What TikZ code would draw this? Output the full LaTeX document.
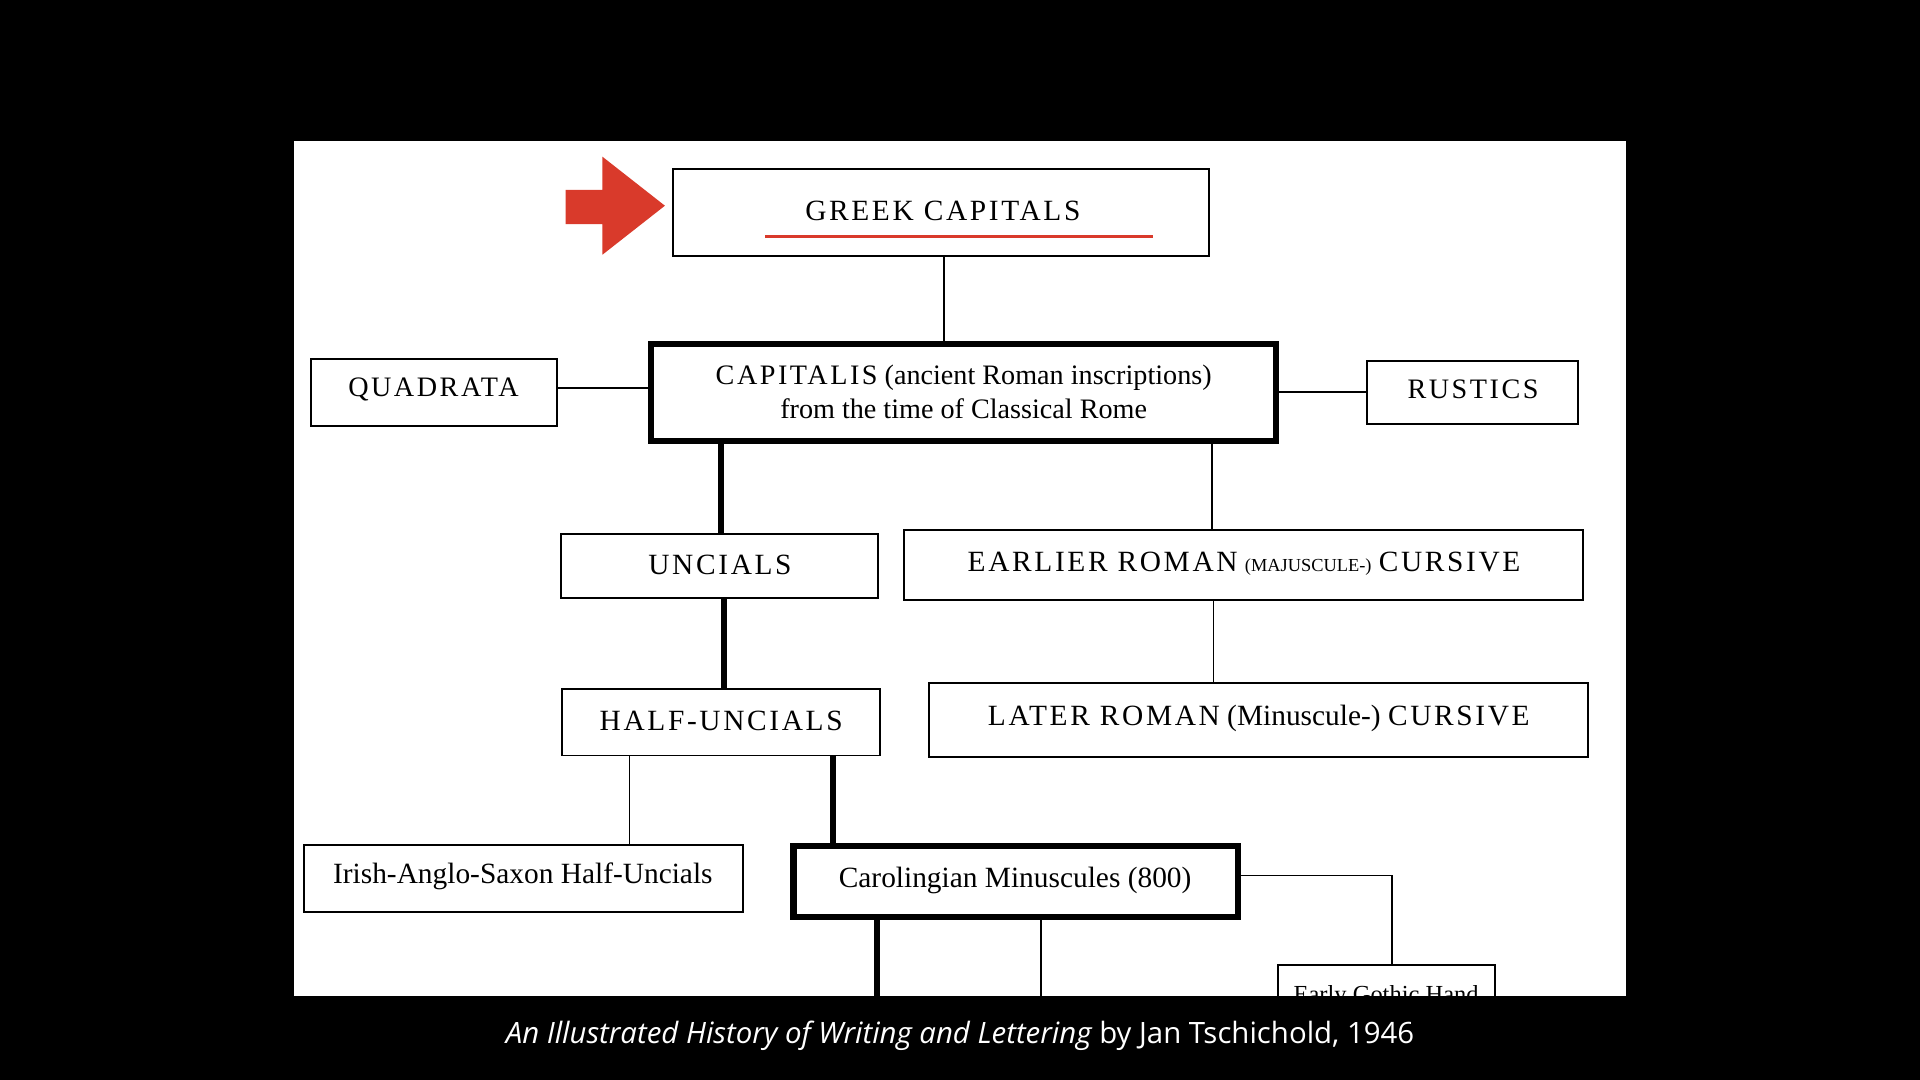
\documentclass[tikz,border=0pt]{standalone}
\usepackage{fontspec}
\setmainfont{Liberation Serif}
\newfontfamily\capsp[LetterSpace=9]{Liberation Serif}
\newfontfamily\capfont{Open Sans}
\definecolor{accent}{HTML}{D93A2B}
\begin{document}
\begin{tikzpicture}[x=1pt,y=-1pt,
  bx/.style={draw=black,line width=1.6pt},
  tbx/.style={draw=black,line width=5pt},
  ln/.style={draw=black,line width=1.4pt},
  tln/.style={draw=black,line width=5pt},
  lbl/.style={anchor=center,inner sep=0pt}]
\fill[black] (0,0) rectangle (1568,882);
\useasboundingbox (0,0) rectangle (1568,882);
\fill[white] (240,115) rectangle (1328,813);
\begin{scope}
\clip (240,115) rectangle (1328,813);
% arrow
\fill[accent] (462,155) -- (492,155) -- (492,128) -- (543,168) -- (492,208) -- (492,183) -- (462,183) -- cycle;
% boxes
\draw[bx] (550,138) rectangle (987,209);
\node[lbl] (greek) at (770,172) {\capsp\fontsize{24}{26}\selectfont GREEK CAPITALS};
\draw[accent,line width=2.5pt] (625,193) -- (942,193);
\draw[tbx] (532,281) rectangle (1042,360);
\node[lbl,align=center,font=\fontsize{23}{27}\selectfont] (capit) at (787,320) {{\capsp CAPITALIS} (ancient Roman inscriptions)\\ from the time of Classical Rome};
\draw[bx] (254,293) rectangle (455,348);
\node[lbl] (quad) at (354,318) {\capsp\fontsize{23}{25}\selectfont QUADRATA};
\draw[bx] (1116,295) rectangle (1289,346);
\node[lbl] (rust) at (1203,318) {\capsp\fontsize{23}{25}\selectfont RUSTICS};
\draw[bx] (458,436) rectangle (717,488);
\node[lbl] (unc) at (588,461) {\capsp\fontsize{24}{26}\selectfont UNCIALS};
\draw[bx] (738,433) rectangle (1293,490);
\node[lbl] (early) at (1016,460) {\fontsize{24}{26}\selectfont{\capsp EARLIER ROMAN} {\fontsize{15}{16}\selectfont(MAJUSCULE-)} {\capsp CURSIVE}};
\draw[bx] (459,563) rectangle (719,617);
\node[lbl] (half) at (589,589) {\capsp\fontsize{24}{26}\selectfont HALF-UNCIALS};
\draw[bx] (759,558) rectangle (1297,618);
\node[lbl] (later) at (1028,587) {\fontsize{24}{26}\selectfont{\capsp LATER ROMAN} (Minuscule-) {\capsp CURSIVE}};
\draw[bx] (248,690) rectangle (607,745);
\node[lbl] (irish) at (427,716) {\fontsize{24}{26}\selectfont Irish-Anglo-Saxon Half-Uncials};
\draw[tbx] (648,691) rectangle (1011,749);
\node[lbl] (caro) at (829,719) {\fontsize{24}{26}\selectfont Carolingian Minuscules (800)};
\draw[bx] (1044,788) rectangle (1221,830);
\node[lbl] (goth) at (1132,814) {\fontsize{20}{22}\selectfont Early Gothic Hand};
% connectors
\draw[ln] (771,209) -- (771,280);
\draw[ln] (455,317) -- (530,317);
\draw[ln] (1044,320) -- (1116,320);
\draw[tln] (589,362) -- (589,436);
\draw[ln] (990,362) -- (990,433);
\draw[tln] (591,488) -- (591,563);
\draw[ln] (991,490) -- (991,558);
\draw[ln] (514,617) -- (514,690);
\draw[tln] (680,617) -- (680,689);
\draw[ln] (1013,715) -- (1137,715) -- (1137,788);
\draw[tln] (716,751) -- (716,820);
\draw[ln] (850,751) -- (850,820);
\end{scope}
\node[lbl,text=white] (cap) at (784,846) {\capfont\fontsize{24}{26}\selectfont\itshape An Illustrated History of Writing and Lettering\upshape{} by Jan Tschichold, 1946};
\end{tikzpicture}
\end{document}
